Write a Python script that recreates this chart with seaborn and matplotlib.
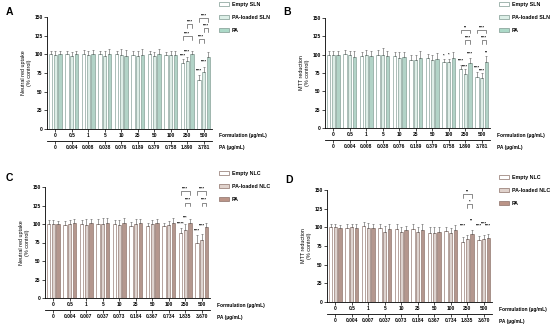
import numpy as np
import pandas as pd
import matplotlib
matplotlib.use("Agg")
import matplotlib.pyplot as plt
import seaborn as sns
from matplotlib.patches import Patch

# ---- data ----
formulation = ["0", "0.5", "1", "5", "10", "25", "50", "100", "250", "500"]
pa_sln = ["0", "0.004", "0.008", "0.038", "0.076", "0.189", "0.379", "0.758", "1.890", "3.781"]
pa_nlc = ["0", "0.004", "0.007", "0.037", "0.073", "0.184", "0.367", "0.734", "1.835", "3.670"]

sln_names = ["Empty SLN", "PA-loaded SLN", "PA"]
nlc_names = ["Empty NLC", "PA-loaded NLC", "PA"]

# A: SLN, neutral red uptake
a_empty = [100, 100, 101, 100, 100, 99, 100, 99, 89, 66]
a_loaded = [99, 98, 99, 98, 99, 98, 98, 99, 91, 77]
a_pa = [100, 100, 101, 101, 98, 99, 101, 99, 100, 97]
a_sd = [[5, 4, 5, 4, 4, 5, 5, 4, 5, 6],
        [5, 5, 6, 6, 8, 7, 5, 6, 5, 6],
        [5, 5, 5, 6, 8, 8, 6, 5, 4, 6]]

# B: SLN, MTT reduction
b_empty = [100, 101, 98, 100, 98, 93, 95, 90, 80, 69]
b_loaded = [100, 100, 100, 100, 96, 93, 93, 90, 74, 68]
b_pa = [100, 97, 98, 98, 97, 96, 94, 95, 88, 90]
b_sd = [[5, 5, 6, 7, 6, 6, 6, 4, 6, 8],
        [5, 5, 6, 9, 7, 7, 7, 4, 6, 7],
        [5, 8, 7, 7, 7, 9, 8, 9, 8, 8]]

# C: NLC, neutral red uptake
c_empty = [100, 99, 100, 100, 100, 97, 97, 97, 88, 75]
c_loaded = [100, 100, 99, 100, 99, 100, 100, 98, 92, 79]
c_pa = [100, 102, 101, 102, 102, 101, 102, 101, 101, 96]
c_sd = [[6, 5, 5, 7, 5, 6, 5, 5, 7, 10],
        [5, 6, 8, 8, 6, 7, 5, 6, 8, 8],
        [4, 5, 6, 6, 6, 6, 5, 7, 6, 6]]

# D: NLC, MTT reduction
d_empty = [100, 99, 102, 99, 98, 98, 93, 95, 81, 83]
d_loaded = [100, 100, 99, 94, 94, 94, 93, 92, 84, 85]
d_pa = [99, 99, 99, 98, 96, 97, 94, 96, 91, 86]
d_sd = [[5, 5, 5, 5, 6, 7, 7, 6, 6, 5],
        [5, 5, 7, 8, 6, 6, 7, 7, 6, 5],
        [4, 5, 6, 7, 6, 7, 6, 7, 6, 5]]

# significance: (group, bar, y, text) above bars; (group, bar1, bar2, y, text) brackets
a_stars = [(8, 0, 96, "****"), (8, 1, 101, "****"), (9, 0, 76, "****"), (9, 1, 88, "****")]
a_brackets = [(8, 1, 2, 140, "****"), (8, 0, 2, 124, "****"),
              (9, 0, 2, 148, "****"), (9, 1, 2, 135, "****"), (9, 0, 1, 120, "****")]
b_stars = [(7, 0, 96, "*"), (7, 1, 97, "*"), (8, 0, 89, "****"), (8, 1, 81, "****"),
           (8, 2, 99, "****"), (9, 0, 80, "****"), (9, 1, 76, "****"), (9, 2, 100, "**")]
b_brackets = [(8, 0, 2, 134, "**"), (8, 1, 2, 120, "****"),
              (9, 0, 2, 134, "****"), (9, 1, 2, 120, "****")]
c_stars = [(8, 0, 98, "*****"), (8, 1, 106, "***"), (9, 0, 88, "****"), (9, 1, 95, "****")]
c_brackets = [(8, 0, 2, 144, "****"), (8, 1, 2, 129, "****"),
              (9, 0, 2, 144, "****"), (9, 1, 2, 129, "****")]
d_stars = [(8, 0, 100, "****"), (8, 2, 106, "**"), (9, 0, 99, "****"),
           (9, 1, 102, "****"), (9, 2, 99, "****")]
d_brackets = [(8, 0, 2, 144, "**"), (8, 1, 2, 131, "*")]

sln_colors = ["#ffffff", "#dcefe7", "#acd9c8"]
nlc_colors = ["#ffffff", "#e0d2cc", "#bb9487"]

W, H = 550, 330
plt.rcParams["font.family"] = ["Liberation Sans", "DejaVu Sans"]
plt.rcParams["font.weight"] = "bold"
fig = plt.figure(figsize=(W / 100, H / 100), dpi=100)

FS = 3.5
SFS = 2.9


def panel(box, letter, letter_xy, names, series, sds, colors, edge, pa_labels,
          ylabel, stars, brackets, legend_xy):
    left, top, right, bottom = box
    ax = fig.add_axes([left / W, 1 - bottom / H, (right - left) / W, (bottom - top) / H])
    rows = []
    for name, vals in zip(names, series):
        for g, v in zip(formulation, vals):
            rows.append({"group": g, "series": name, "value": v})
    df = pd.DataFrame(rows)
    sns.barplot(data=df, x="group", y="value", hue="series", order=formulation,
                hue_order=names, palette=colors, edgecolor=edge, linewidth=0.45,
                width=0.85, gap=0.3, errorbar=None, legend=False, ax=ax)
    bar_sets = list(ax.containers)
    xpos = []
    for h, cont in enumerate(bar_sets):
        xs = [p.get_x() + p.get_width() / 2 for p in cont]
        xpos.append(xs)
        ys = [p.get_height() for p in cont]
        ax.errorbar(xs, ys, yerr=[np.zeros(len(ys)), sds[h]], fmt="none",
                    ecolor="#555555", elinewidth=0.4, capsize=0.8, capthick=0.4)

    for g, b, y, t in stars:
        ax.text(xpos[b][g], y, t, ha="center", va="bottom", fontsize=SFS, clip_on=False)
    for g, b1, b2, y, t in brackets:
        x1, x2 = xpos[b1][g], xpos[b2][g]
        ax.plot([x1, x1, x2, x2], [y - 5, y, y, y - 5], color="#333333", lw=0.4,
                clip_on=False)
        ax.text((x1 + x2) / 2, y + 0.8, t, ha="center", va="bottom", fontsize=SFS,
                clip_on=False)

    ax.set_xlim(-0.5, 9.5)
    ax.set_ylim(0, 150)
    ax.set_yticks(range(0, 151, 25))
    ax.set_xlabel("")
    ax.set_ylabel(ylabel, fontsize=3.9, labelpad=2, linespacing=1.2)
    sns.despine(ax=ax)
    for s in ["left", "bottom"]:
        ax.spines[s].set_linewidth(0.6)
    ax.tick_params(axis="both", labelsize=FS, length=2, width=0.5, pad=1.2)

    off = 12 / (bottom - top)
    sec = ax.secondary_xaxis(-off)
    sec.set_xticks(range(10))
    sec.set_xticklabels(pa_labels)
    sec.tick_params(labelsize=FS, length=2, width=0.5, pad=1.2)
    sec.spines["bottom"].set_linewidth(0.6)

    ax.text(1.04, -7 / (bottom - top), "Formulation (\u00b5g/mL)", transform=ax.transAxes,
            fontsize=FS, va="center", ha="left")
    ax.text(1.04, -19 / (bottom - top), "PA (\u00b5g/mL)", transform=ax.transAxes,
            fontsize=FS, va="center", ha="left")

    handles = [Patch(facecolor=c, edgecolor=edge, linewidth=0.5) for c in colors]
    fig.legend(handles, names, loc="upper left",
               bbox_to_anchor=(legend_xy[0] / W, 1 - legend_xy[1] / H),
               frameon=False, prop={"size": 3.8, "weight": "bold"},
               handlelength=1.8, handleheight=0.7, labelspacing=1.5,
               handletextpad=0.6, borderaxespad=0, borderpad=0)

    fig.text(letter_xy[0] / W, 1 - letter_xy[1] / H, letter, fontsize=7.5,
             fontweight="bold", ha="left", va="center")


panel((47, 17, 212, 129), "A", (6, 12), sln_names, [a_empty, a_loaded, a_pa], a_sd,
      sln_colors, "#7f9a91", pa_sln, "Neutral red uptake\n(% control)",
      a_stars, a_brackets, (219, 2))
panel((325, 18, 490, 128), "B", (283, 12), sln_names, [b_empty, b_loaded, b_pa], b_sd,
      sln_colors, "#7f9a91", pa_sln, "MTT reduction\n(% control)",
      b_stars, b_brackets, (499, 2))
panel((45, 187, 210, 298), "C", (6, 178), nlc_names, [c_empty, c_loaded, c_pa], c_sd,
      nlc_colors, "#8c7169", pa_nlc, "Neutral red uptake\n(% control)",
      c_stars, c_brackets, (219, 171))
panel((327, 190, 492, 302), "D", (285, 180), nlc_names, [d_empty, d_loaded, d_pa], d_sd,
      nlc_colors, "#8c7169", pa_nlc, "MTT reduction\n(% control)",
      d_stars, d_brackets, (499, 175))

fig.savefig("out.png", dpi=100, facecolor="white")
